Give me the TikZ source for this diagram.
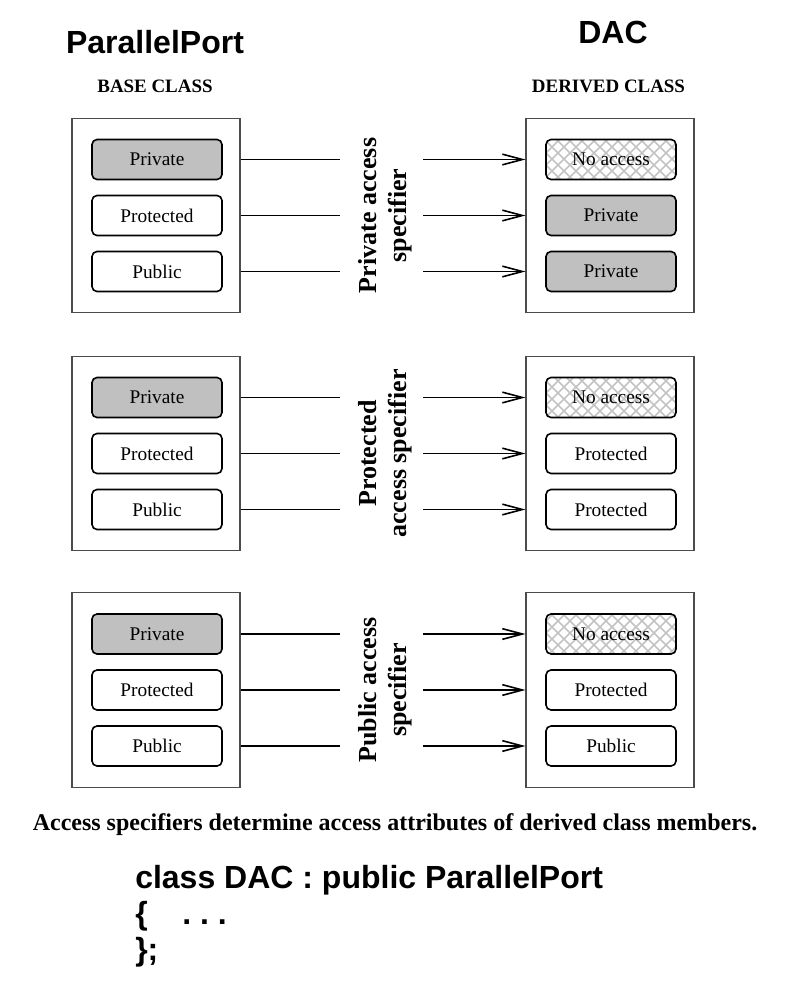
\documentclass[tikz,border=0pt]{standalone}
\usepackage{fontspec}
\setmainfont{Liberation Serif}
\newfontfamily\headfont{Liberation Sans}
\usetikzlibrary{positioning, arrows.meta, patterns.meta}

\definecolor{privgray}{RGB}{192,192,192}
\definecolor{hatchgray}{RGB}{195,195,195}

% crossed hatching for members that cannot be reached
\tikzdeclarepattern{
  name=noaccess,
  type=uncolored,
  bottom left={(-.5pt,-.5pt)},
  top right={(9.5pt,9.5pt)},
  tile size={(9pt,9pt)},
  code={
    \draw[line width=1.1pt] (0pt,0pt) -- (9pt,9pt) (0pt,9pt) -- (9pt,0pt);
  }
}

\begin{document}
\begin{tikzpicture}[x=0.75pt, y=-0.75pt, >={Straight Barb[length=15pt,width=8pt]},
  class box/.style={draw=black!70, line width=0.8pt, minimum width=126pt, minimum height=146pt},
  member/.style={draw, line width=1.2pt, rounded corners=3.75pt, minimum width=97.5pt, minimum height=30pt, inner sep=0pt, font=\fontsize{14.5}{17}\selectfont},
  openbox/.style={member, fill=white},
  privbox/.style={member, fill=privgray},
  nobox/.style={member, pattern=noaccess, pattern color=hatchgray},
  spec/.style={align=center, rotate=90, font=\fontsize{19.5}{22.5}\selectfont\bfseries},
  link/.style={line width=1.2pt}]

  \useasboundingbox (0,0) rectangle (787,987);

  % Headings
  \node[anchor=base, font=\headfont\bfseries\fontsize{24}{28}\selectfont] (pp) at (155,54) {ParallelPort};
  \node[anchor=base, font=\headfont\bfseries\fontsize{24}{28}\selectfont] (dac) at (613,44) {DAC};
  \node[anchor=base, font=\bfseries\fontsize{14.2}{16}\selectfont] (basehead) at (155,93) {BASE CLASS};
  \node[anchor=base, font=\bfseries\fontsize{14.2}{16}\selectfont] (derhead) at (608.5,93) {DERIVED CLASS};

  \coordinate (gapL) at (340,0);
  \coordinate (gapR) at (423,0);

  % One row of boxes for each access specifier
  \foreach \k/\yy/\da/\ta/\db/\tb/\dc/\tc/\lbl in {
      1/215.5/nobox/No access/privbox/Private/privbox/Private/{Private access\\specifier},
      2/453.5/nobox/No access/openbox/Protected/openbox/Protected/{Protected\\access specifier},
      3/690/nobox/No access/openbox/Protected/openbox/Public/{Public access\\specifier}} {
    \node[class box] (base\k) at (156,\yy) {};
    \node[class box] (der\k) at (610,\yy) {};
    \node[privbox] (b\k1) at (157,\yy-56) {Private};
    \node[openbox, below=10.8pt of b\k1] (b\k2) {Protected};
    \node[openbox, below=10.8pt of b\k2] (b\k3) {Public};
    \node[\da] (d\k1) at (611,\yy-56) {\ta};
    \node[\db, below=10.8pt of d\k1] (d\k2) {\tb};
    \node[\dc, below=10.8pt of d\k2] (d\k3) {\tc};
    \node[spec] (s\k) at (385,\yy) {\lbl};
    \foreach \r in {1,2,3} {
      \draw[link] (b\k\r -| base\k.east) -- (b\k\r -| gapL);
      \draw[link, ->] (b\k\r -| gapR) -- (b\k\r -| der\k.west);
    }
  }

  % Caption and code
  \node[anchor=base, font=\bfseries\fontsize{18}{21}\selectfont] (caption) at (395,830) {Access specifiers determine access attributes of derived class members.};
  \node[anchor=base west, inner sep=0pt, font=\headfont\bfseries\fontsize{24}{27}\selectfont] (code1) at (135,888) {class DAC : public ParallelPort};
  \node[anchor=base west, inner sep=0pt, font=\headfont\bfseries\fontsize{24}{27}\selectfont\frenchspacing] (code2) at (135,924.5) {\{\hspace{26pt}. . .};
  \node[anchor=base west, inner sep=0pt, font=\headfont\bfseries\fontsize{24}{27}\selectfont] (code3) at (135,960.5) {\};};
\end{tikzpicture}
\end{document}
